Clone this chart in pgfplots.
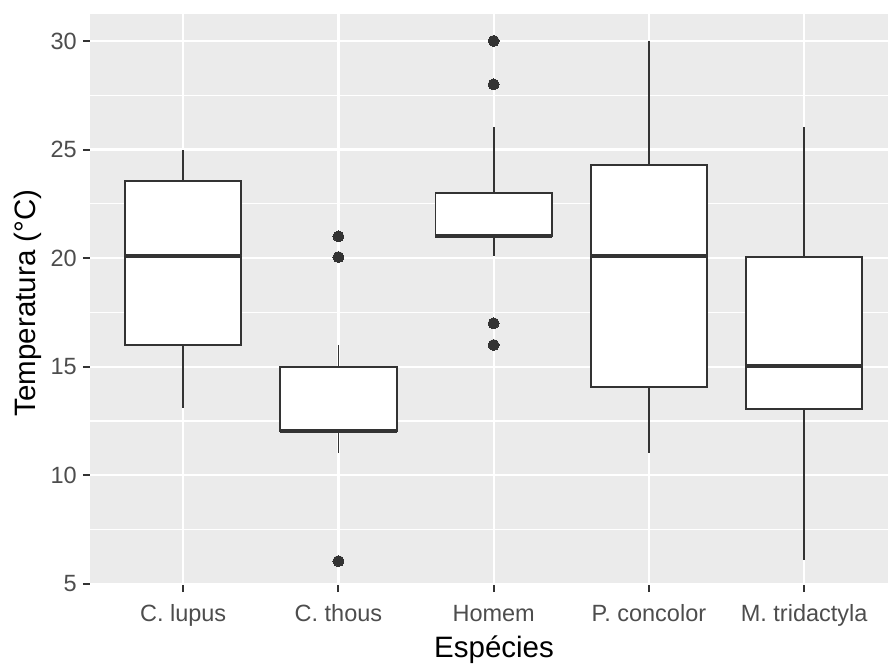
\documentclass[border=0pt]{standalone}
\usepackage{fontspec}
\setmainfont{Liberation Sans}
\usepackage{pgfplots}
\pgfplotsset{compat=1.18}
\usepgfplotslibrary{statistics}
\definecolor{panelgray}{HTML}{EBEBEB}
\definecolor{gray20}{HTML}{333333}
\definecolor{gray30}{HTML}{4D4D4D}
\begin{document}
\begin{tikzpicture}
\useasboundingbox (-90pt,-81pt) rectangle (798pt,585pt);
\begin{axis}[
  at={(0pt,0pt)}, anchor=south west,
  scale only axis, width=798pt, height=571pt,
  xmin=0.4, xmax=5.54, ymin=4.95, ymax=31.24,
  xtick={1,2,3,4,5},
  xticklabels={C. lupus, C. thous, Homem, P. concolor, M. tridactyla},
  ytick={5,10,15,20,25,30},
  minor ytick={7.5,12.5,17.5,22.5,27.5},
  grid=both,
  major grid style={white, line width=2.2pt},
  minor grid style={white, line width=1.1pt},
  axis background/.style={fill=panelgray},
  axis line style={draw=none},
  tick align=outside, tick pos=left,
  major tick length=7pt, minor tick length=0pt,
  major tick style={gray20, line width=2pt},
  /pgf/number format/assume math mode=true,
  ticklabel style={font=\fontsize{23.5}{28}\selectfont, text=gray30, inner sep=0pt},
  xticklabel style={anchor=north, text height=17pt, text depth=5pt, yshift=-12pt},
  yticklabel style={anchor=east, xshift=-6pt},
  xlabel={Espécies},
  ylabel={Temperatura (°C)},
  label style={font=\fontsize{29.5}{34}\selectfont, text=black},
  xlabel style={at={(axis description cs:0.5063,0)}, anchor=base, yshift=-72pt},
  ylabel style={at={(axis description cs:0,0.494)}, anchor=base, yshift=54pt},
  boxplot/draw direction=y,
  boxplot/box extend=0.75,
  boxplot/whisker extend=0,
  boxplot/every median/.style={line width=4pt},
]
\addplot[boxplot prepared={draw position=1, lower whisker=13.1, lower quartile=16.0, median=20.1, upper quartile=23.55, upper whisker=25.0},
  fill=white, draw=gray20, line width=1.8pt] coordinates {};
\addplot[boxplot prepared={draw position=2, lower whisker=11.05, lower quartile=12.05, median=12.05, upper quartile=15.0, upper whisker=16.0},
  fill=white, draw=gray20, line width=1.8pt, mark=*, mark size=5.5pt, mark options={fill=gray20, draw=gray20, line width=0pt}]
  table[row sep=\\, y index=0] {data\\ 21\\ 20.05\\ 6.05\\};
\addplot[boxplot prepared={draw position=3, lower whisker=20.1, lower quartile=21.0, median=21.0, upper quartile=23.0, upper whisker=26.05},
  fill=white, draw=gray20, line width=1.8pt, mark=*, mark size=5.5pt, mark options={fill=gray20, draw=gray20, line width=0pt}]
  table[row sep=\\, y index=0] {data\\ 30\\ 28\\ 17\\ 16\\};
\addplot[boxplot prepared={draw position=4, lower whisker=11.05, lower quartile=14.05, median=20.1, upper quartile=24.3, upper whisker=30.0},
  fill=white, draw=gray20, line width=1.8pt] coordinates {};
\addplot[boxplot prepared={draw position=5, lower whisker=6.1, lower quartile=13.05, median=15.05, upper quartile=20.05, upper whisker=26.05},
  fill=white, draw=gray20, line width=1.8pt] coordinates {};
\end{axis}
\end{tikzpicture}
\end{document}
